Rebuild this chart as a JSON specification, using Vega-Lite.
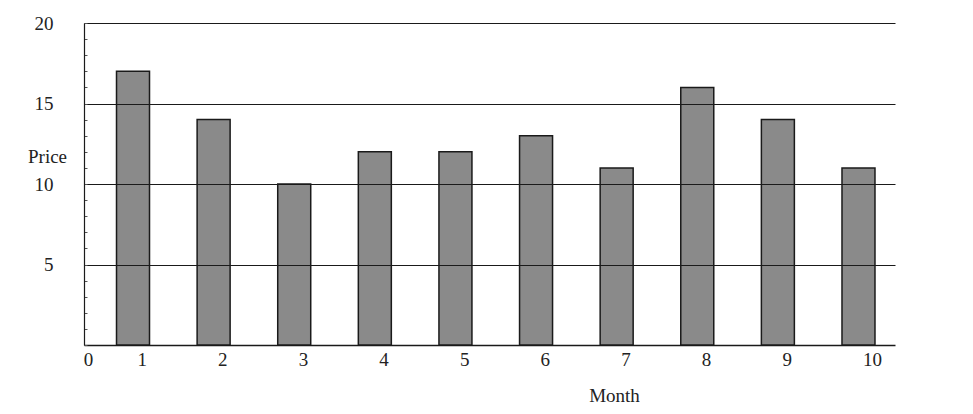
{
  "$schema": "https://vega.github.io/schema/vega-lite/v6.json",
  "width": 811,
  "height": 322,
  "autosize": "none",
  "padding": {"left": 84, "top": 23, "right": 78, "bottom": 69},
  "background": "white",
  "config": {
    "view": {"stroke": null},
    "font": "Liberation Serif"
  },
  "data": {
    "values": [
      {"month": 1, "price": 17},
      {"month": 2, "price": 14},
      {"month": 3, "price": 10},
      {"month": 4, "price": 12},
      {"month": 5, "price": 12},
      {"month": 6, "price": 13},
      {"month": 7, "price": 11},
      {"month": 8, "price": 16},
      {"month": 9, "price": 14},
      {"month": 10, "price": 11}
    ]
  },
  "mark": {
    "type": "bar",
    "width": 33,
    "fill": "#8a8a8a",
    "stroke": "#1a1a1a",
    "strokeWidth": 1.5
  },
  "encoding": {
    "x": {
      "field": "month",
      "type": "quantitative",
      "scale": {"domain": [0.392, 10.453], "nice": false, "zero": false, "padding": 0},
      "axis": {
        "values": [0.392, 1, 2, 3, 4, 5, 6, 7, 8, 9, 10],
        "labelExpr": "datum.value < 1 ? '0' : datum.label",
        "ticks": false,
        "grid": false,
        "domainColor": "#1a1a1a",
        "domainWidth": 1.5,
        "labelFlush": false,
        "labelAlign": {"condition": {"test": "datum.value < 1", "value": "center"}, "value": "left"},
        "labelBaseline": "top",
        "labelOffset": 4,
        "labelPadding": 5,
        "labelFont": "Liberation Serif",
        "labelFontSize": 19,
        "labelColor": "#222",
        "title": "Month",
        "titleFont": "Liberation Serif",
        "titleFontSize": 19,
        "titleFontWeight": "normal",
        "titleColor": "#222",
        "titleX": 530,
        "titleY": 50,
        "titleAlign": "center",
        "titleBaseline": "middle"
      }
    },
    "y": {
      "field": "price",
      "type": "quantitative",
      "scale": {"domain": [0, 20], "nice": false, "padding": 0},
      "axis": {
        "values": [0, 1, 2, 3, 4, 5, 6, 7, 8, 9, 10, 11, 12, 13, 14, 15, 16, 17, 18, 19, 20],
        "labelExpr": "datum.value % 5 === 0 && datum.value > 0 ? datum.label : ''",
        "zindex": 1,
        "grid": true,
        "gridColor": "#1a1a1a",
        "gridWidth": 1.2,
        "gridOpacity": {"condition": {"test": "datum.value % 5 === 0 && datum.value > 0", "value": 1}, "value": 0},
        "tickSize": -3,
        "tickColor": "#555",
        "tickWidth": 1,
        "domainColor": "#1a1a1a",
        "domainWidth": 1.2,
        "labelPadding": 34,
        "labelFont": "Liberation Serif",
        "labelFontSize": 19,
        "labelColor": "#222",
        "labelBaseline": "middle",
        "title": "Price",
        "titleFont": "Liberation Serif",
        "titleFontSize": 19,
        "titleFontWeight": "normal",
        "titleColor": "#222",
        "titleAngle": 0,
        "titleX": -37,
        "titleY": 133,
        "titleAlign": "center",
        "titleBaseline": "middle"
      }
    }
  }
}
